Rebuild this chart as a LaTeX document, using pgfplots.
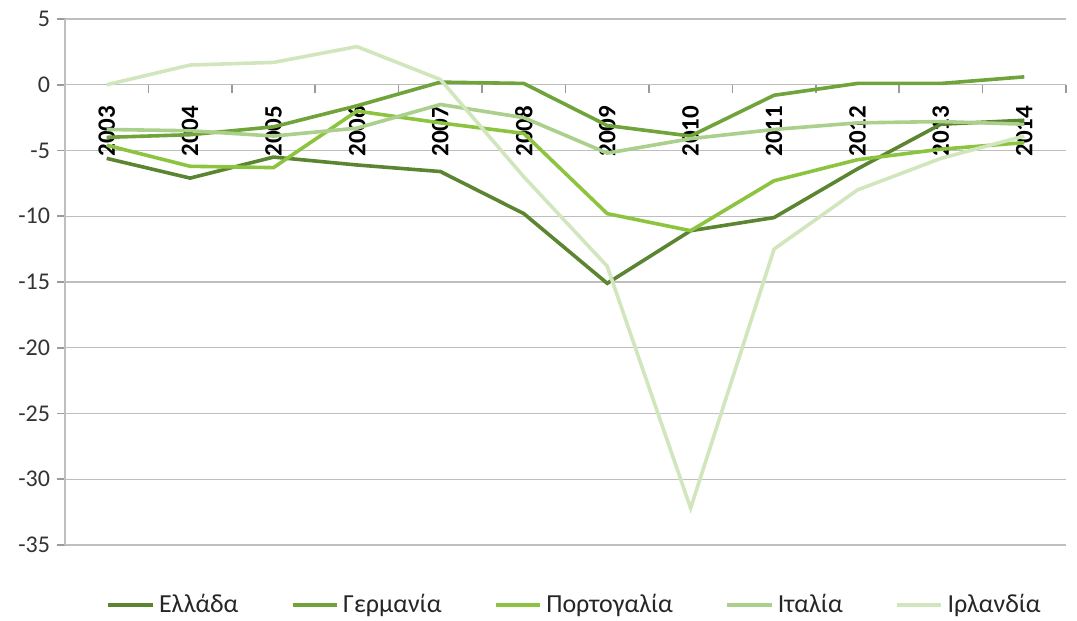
\documentclass[border=0pt]{standalone}
\usepackage{fontspec}
\setmainfont{Carlito}
\usepackage{pgfplots}
\pgfplotsset{compat=1.18}
\definecolor{cgre}{HTML}{5B8530}
\definecolor{cger}{HTML}{70A33A}
\definecolor{cpor}{HTML}{8CC440}
\definecolor{cita}{HTML}{AAD08C}
\definecolor{cirl}{HTML}{D2E6BE}
\definecolor{gridc}{HTML}{BEBEBE}
\definecolor{tickc}{HTML}{9A9A9A}
\begin{document}
\begin{tikzpicture}
\path[use as bounding box] (-32.5pt,-38pt) rectangle (506pt,272.5pt);
\begin{axis}[
  scale only axis,
  width=500.5pt, height=263pt,
  xmin=-0.5, xmax=11.5,
  ymin=-35, ymax=5,
  ytick={-35,-30,...,5},
  minor ytick={-35,-30,...,5},
  ymajorgrids,
  grid style={gridc, line width=0.6pt},
  axis x line=middle,
  axis y line=left,
  axis line style={-, gridc, line width=0.6pt},
  xtick={0,1,2,3,4,5,6,7,8,9,10,11},
  xticklabels={2003,2004,2005,2006,2007,2008,2009,2010,2011,2012,2013,2014},
  minor xtick={-0.5,0.5,1.5,2.5,3.5,4.5,5.5,6.5,7.5,8.5,9.5,10.5,11.5},
  major tick length=0pt,
  minor tick length=4pt,
  xtick align=outside,
  ytick align=outside,
  every minor tick/.style={tickc, line width=0.8pt},
  xticklabel style={yshift=-7pt, rotate=90, anchor=east, font=\fontsize{12.5}{14}\selectfont\bfseries, text=black},
  yticklabel style={font=\fontsize{12}{14}\selectfont, text=black!80},
  yticklabel shift=4pt,
  ytick pos=left,
  /pgf/number format/assume math mode=true,
  legend columns=5,
  legend style={draw=none, fill=none, at={(0.51,-0.114)}, anchor=center,
    font=\fontsize{13}{15}\selectfont, text=black!85,
    /tikz/every even column/.append style={column sep=24pt}},
  legend image code/.code={\draw[#1, line width=2.2pt] (0cm,0cm) -- (0.78cm,0cm);},
  every axis plot/.append style={line width=1.8pt, mark=none},
]
\addplot[cgre] coordinates {(0,-5.6) (1,-7.1) (2,-5.5) (3,-6.1) (4,-6.6) (5,-9.8) (6,-15.1) (7,-11.1) (8,-10.1) (9,-6.4) (10,-3.0) (11,-2.7)};
\addlegendentry{Ελλάδα}
\addplot[cger] coordinates {(0,-4.0) (1,-3.8) (2,-3.2) (3,-1.6) (4,0.2) (5,0.1) (6,-3.1) (7,-3.9) (8,-0.8) (9,0.1) (10,0.1) (11,0.6)};
\addlegendentry{Γερμανία}
\addplot[cpor] coordinates {(0,-4.6) (1,-6.2) (2,-6.3) (3,-2.0) (4,-2.9) (5,-3.7) (6,-9.8) (7,-11.1) (8,-7.3) (9,-5.7) (10,-4.9) (11,-4.4)};
\addlegendentry{Πορτογαλία}
\addplot[cita] coordinates {(0,-3.4) (1,-3.5) (2,-3.9) (3,-3.3) (4,-1.5) (5,-2.5) (6,-5.2) (7,-4.1) (8,-3.4) (9,-2.9) (10,-2.8) (11,-3.0)};
\addlegendentry{Ιταλία}
\addplot[cirl] coordinates {(0,0.0) (1,1.5) (2,1.7) (3,2.9) (4,0.4) (5,-7.0) (6,-13.8) (7,-32.2) (8,-12.5) (9,-8.0) (10,-5.6) (11,-3.9)};
\addlegendentry{Ιρλανδία}
\end{axis}
\end{tikzpicture}
\end{document}
